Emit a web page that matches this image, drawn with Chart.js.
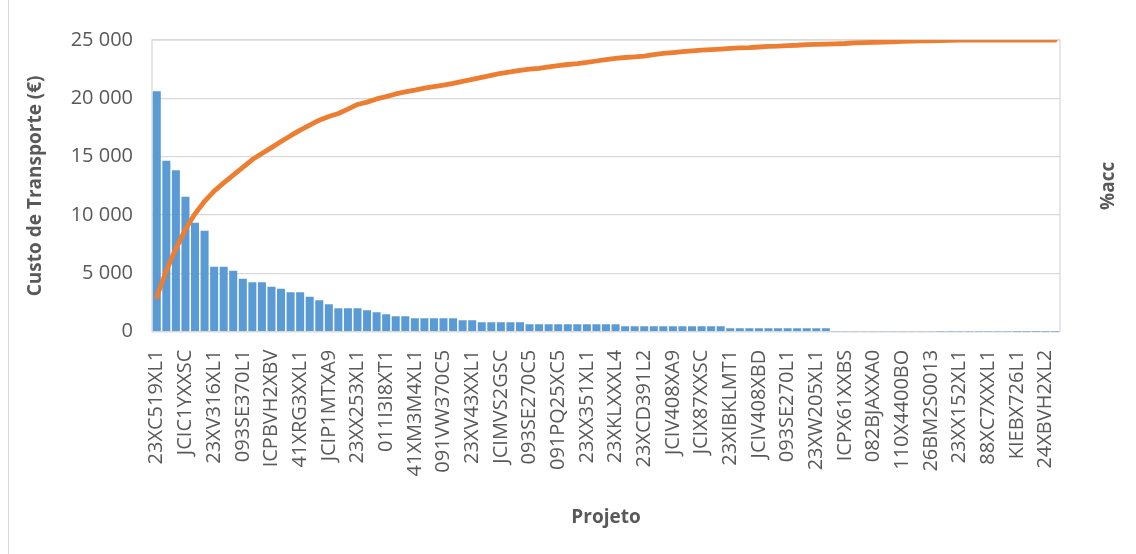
<!DOCTYPE html>
<html lang="pt">
<head>
<meta charset="utf-8">
<title>Custo de Transporte por Projeto</title>
<script src="https://cdn.jsdelivr.net/npm/chart.js@4.4.1/dist/chart.umd.min.js"></script>
<style>
  html, body { margin: 0; padding: 0; background: #ffffff; }
  #wrap { width: 1136px; height: 554px; }
</style>
</head>
<body>
<div id="wrap"><canvas id="pareto" width="1136" height="554"></canvas></div>
<script>
// Project codes printed on the category axis (one every third project)
const projetosRotulados = [
  '23XC519XL1', 'JCIC1YXXSC', '23XV316XL1', '093SE370L1', 'ICPBVH2XBV', '41XRG3XXL1',
  'JCIP1MTXA9', '23XX253XL1', '011I3I8XT1', '41XM3M4XL1', '091VW370C5', '23XV43XXL1',
  'JCIMVS2GSC', '093SE270C5', '091PQ25XC5', '23XX351XL1', '23XKLXXXL4', '23XCD391L2',
  'JCIV408XA9', 'JCIX87XXSC', '23XIBKLMT1', 'JCIV408XBD', '093SE270L1', '23XW205XL1',
  'ICPX61XXBS', '082BJAXXA0', '110X4400BO', '26BM2S0013', '23XX152XL1', '88XC7XXXL1',
  'KIEBX726L1', '24XBVH2XL2'
];

// Transport cost per project (€), sorted descending
const custoTransporte = [
  20600, 14650, 13830, 11570, 9340, 8655, 5570, 5570, 5230, 4540,
  4230, 4230, 3860, 3685, 3375, 3375, 3000, 2690, 2350, 2005,
  2005, 2005, 1835, 1660, 1490, 1320, 1320, 1150, 1150, 1150,
  1150, 1150, 977, 977, 805, 805, 805, 805, 805, 635,
  635, 635, 635, 635, 635, 635, 635, 635, 635, 463,
  463, 463, 463, 463, 463, 463, 463, 463, 463, 463,
  290, 290, 290, 290, 290, 290, 290, 290, 290, 290,
  290, 40, 40, 40, 35, 35, 35, 30, 30, 30,
  28, 28, 25, 25, 22, 20, 10, 10, 8, 8,
  6, 6, 5, 5, 4
];

// Accumulated share of the total cost (%)
const percentAcumulado = [
  11.9, 21.0, 28.5, 35.1, 40.4, 44.7, 48.2, 51.0, 53.7, 56.3,
  59.0, 61.1, 63.1, 65.2, 67.2, 69.1, 70.8, 72.5, 73.8, 74.8,
  76.3, 77.9, 78.7, 79.8, 80.6, 81.5, 82.2, 82.8, 83.5, 84.0,
  84.5, 85.1, 85.8, 86.5, 87.2, 87.9, 88.6, 89.1, 89.6, 90.0,
  90.3, 90.8, 91.2, 91.6, 91.9, 92.3, 92.8, 93.3, 93.7, 94.0,
  94.2, 94.5, 95.0, 95.4, 95.7, 96.0, 96.3, 96.5, 96.7, 96.9,
  97.1, 97.3, 97.4, 97.6, 97.8, 97.9, 98.1, 98.2, 98.4, 98.5,
  98.6, 98.7, 98.8, 99.0, 99.1, 99.2, 99.3, 99.4, 99.5, 99.6,
  99.7, 99.75, 99.8, 99.9, 99.95, 100, 100, 100, 100, 100,
  100, 100, 100, 100, 100
];

// Cost axis ticks
const ticksCusto = [0, 5000, 10000, 15000, 20000, 25000];

// Category list: the printed code on every third project, others unnamed
const categorias = custoTransporte.map((_, i) => (i % 3 === 0 ? projetosRotulados[i / 3] : ''));

const TEXTO = '#595959';
const GRELHA = '#d9d9d9';
const FONTE = "'Open Sans', 'Liberation Sans', sans-serif";

function formatarMilhares(v) {
  return String(v).replace(/\B(?=(\d{3})+(?!\d))/g, ' ');
}

// Chart-area edge, plot frame and the rotated title of the secondary axis
const molduraPlugin = {
  id: 'moldura',
  beforeDraw(chart) {
    const { ctx, height } = chart;
    ctx.save();
    ctx.strokeStyle = GRELHA;
    ctx.lineWidth = 1;
    ctx.beginPath();
    ctx.moveTo(8.5, 0);
    ctx.lineTo(8.5, height);
    ctx.stroke();
    ctx.restore();
  },
  beforeDatasetsDraw(chart) {
    const { ctx, chartArea: a } = chart;
    ctx.save();
    ctx.strokeStyle = GRELHA;
    ctx.lineWidth = 1.3;
    ctx.strokeRect(a.left, a.top, a.right - a.left, a.bottom - a.top);
    ctx.restore();
  },
  afterDraw(chart) {
    const { ctx, chartArea: a } = chart;
    const s = chart.scales.y1;
    ctx.save();
    ctx.translate(s.left + 49, (a.top + a.bottom) / 2);
    ctx.rotate(-Math.PI / 2);
    ctx.font = 'bold 19px ' + FONTE;
    ctx.fillStyle = TEXTO;
    ctx.textAlign = 'center';
    ctx.textBaseline = 'middle';
    ctx.fillText('%acc', 0, 0);
    ctx.restore();
  }
};

new Chart(document.getElementById('pareto'), {
  data: {
    labels: categorias,
    datasets: [
      {
        type: 'line',
        label: '%acc',
        data: percentAcumulado,
        yAxisID: 'y1',
        borderColor: '#ED7D31',
        backgroundColor: '#ED7D31',
        borderWidth: 4.8,
        pointRadius: 0,
        tension: 0,
        borderCapStyle: 'round',
        borderJoinStyle: 'round',
        order: 0
      },
      {
        type: 'bar',
        label: 'Custo de Transporte (€)',
        data: custoTransporte,
        yAxisID: 'y',
        backgroundColor: '#5B9BD5',
        borderWidth: 0,
        barPercentage: 0.84,
        categoryPercentage: 1.0,
        order: 1
      }
    ]
  },
  options: {
    responsive: false,
    animation: false,
    devicePixelRatio: 1,
    layout: { padding: { top: 40, right: 0, bottom: 0, left: 0 } },
    plugins: {
      legend: { display: false },
      tooltip: { enabled: false }
    },
    scales: {
      x: {
        grid: { display: false, drawTicks: false },
        border: { display: false },
        ticks: {
          autoSkip: false,
          minRotation: 90,
          maxRotation: 90,
          padding: 18,
          color: TEXTO,
          font: { family: FONTE, size: 20 }
        },
        title: {
          display: true,
          text: 'Projeto',
          color: TEXTO,
          font: { family: FONTE, size: 19, weight: 'bold' },
          padding: { top: 0, bottom: 25 }
        },
        afterFit(s) { s.height = 222.3; }
      },
      y: {
        position: 'left',
        min: 0,
        max: 25000,
        afterBuildTicks(s) { s.ticks = ticksCusto.map(v => ({ value: v })); },
        grid: { color: GRELHA, lineWidth: 1.3, drawTicks: false },
        border: { display: false },
        ticks: {
          padding: 19,
          color: TEXTO,
          font: { family: FONTE, size: 20 },
          callback: v => formatarMilhares(v)
        },
        title: {
          display: true,
          text: 'Custo de Transporte (€)',
          color: TEXTO,
          font: { family: FONTE, size: 19, weight: 'bold' },
          padding: { top: 24, bottom: 0 }
        },
        afterFit(s) { s.width = 152; }
      },
      y1: {
        position: 'right',
        min: 0,
        max: 100,
        grid: { display: false, drawTicks: false },
        border: { display: false },
        ticks: { display: false },
        afterFit(s) { s.width = 76; }
      }
    }
  },
  plugins: [molduraPlugin]
});
</script>
</body>
</html>
